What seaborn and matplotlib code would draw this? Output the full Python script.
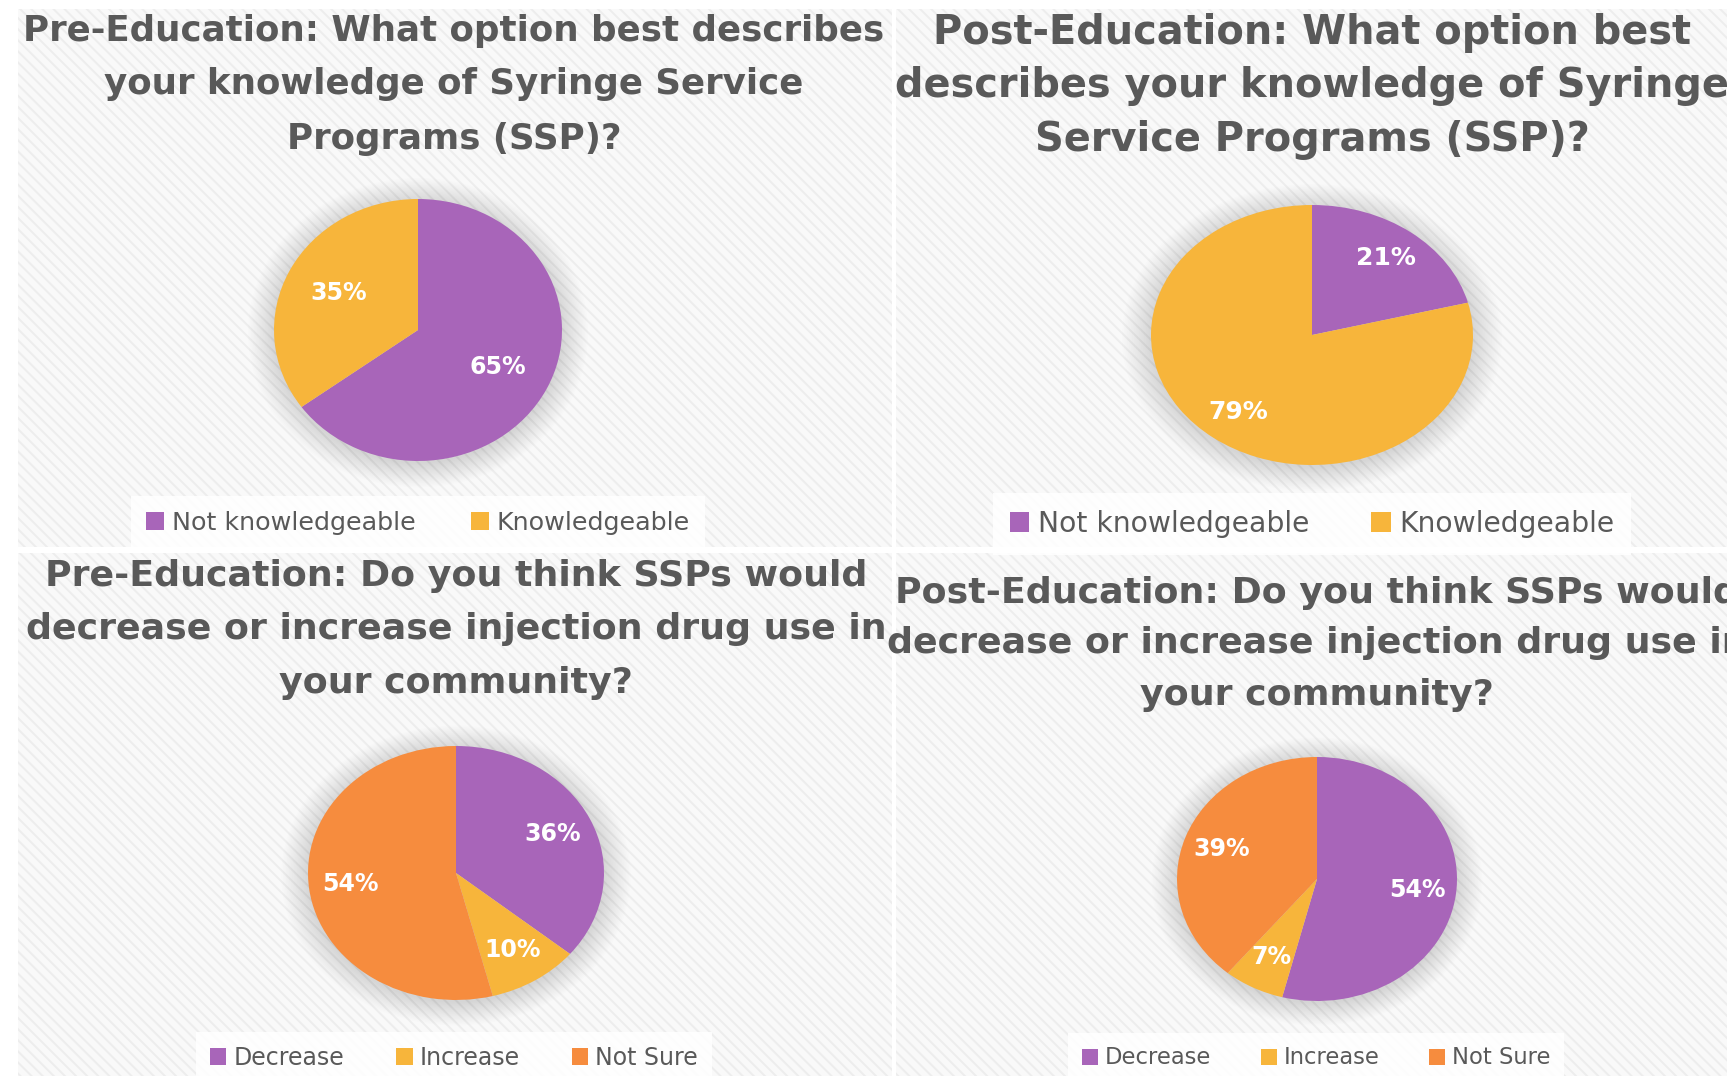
import matplotlib
matplotlib.use("Agg")
import matplotlib.pyplot as plt
import seaborn as sns
from matplotlib.patches import Rectangle, Ellipse
import numpy as np

# ---------------- data ----------------
knowledge_labels = ["Not knowledgeable", "Knowledgeable"]
knowledge_pre = [65, 35]
knowledge_post = [21, 79]

usage_labels = ["Decrease", "Increase", "Not Sure"]
usage_pre = [36, 10, 54]
usage_post = [54, 7, 39]

title_tl = ["Pre-Education: What option best describes",
            "your knowledge of Syringe Service",
            "Programs (SSP)?"]
title_tr = ["Post-Education: What option best",
            "describes your knowledge of Syringe",
            "Service Programs (SSP)?"]
title_bl = ["Pre-Education: Do you think SSPs would",
            "decrease or increase injection drug use in",
            "your community?"]
title_br = ["Post-Education: Do you think SSPs would",
            "decrease or increase injection drug use in",
            "your community?"]

PURPLE, YELLOW, ORANGE = "#A865B9", "#F7B53B", "#F68C3E"
knowledge_colors = [PURPLE, YELLOW]
usage_colors = sns.color_palette([PURPLE, YELLOW, ORANGE])

# ---------------- style ----------------
sns.set_theme(style="white")
plt.rcParams['font.family'] = ['DejaVu Sans']
plt.rcParams['hatch.linewidth'] = 1.4

W, H = 1727, 1076
fig = plt.figure(figsize=(W / 100, H / 100), dpi=100)
fig.patch.set_facecolor('white')
renderer = fig.canvas.get_renderer()


def fx(x):
    return x / W


def fy(y):
    return 1 - y / H


TEXT = "#595959"

# panel backgrounds (hatched)
panels = [(18, 9, 892, 547), (896, 9, 1727, 547),
          (18, 553, 892, 1076), (896, 553, 1727, 1076)]
for (x0, y0, x1, y1) in panels:
    fig.patches.append(Rectangle((fx(x0), fy(y1)), fx(x1) - fx(x0), fy(y0) - fy(y1),
                                 transform=fig.transFigure, facecolor='#f9f9f9',
                                 edgecolor='#ededed', hatch='\\\\\\', linewidth=0,
                                 zorder=-5))


def draw_title(lines, cx, ys, ref_idx, ref_w):
    probe = fig.text(0, 0, lines[ref_idx], fontsize=20, fontweight='bold')
    w = probe.get_window_extent(renderer).width
    probe.remove()
    size = 20 * ref_w / w
    for line, y in zip(lines, ys):
        fig.text(fx(cx), fy(y), line, ha='center', va='center', fontsize=size,
                 fontweight='bold', color=TEXT)


def pie_panel(vals, labels, colors, cx, cy, rx, ry, lx, ly, pctd=0.72,
              leg_size=17, label_size=17):
    k = 1.3
    w, h = 2 * rx * k, 2 * ry * k
    ax = fig.add_axes([fx(cx - w / 2), fy(cy + h / 2), w / W, h / H])
    ax.set_facecolor('none')
    wedges, texts, autotexts = ax.pie(
        vals, colors=colors, startangle=90, counterclock=False,
        autopct=lambda p: f"{p:.0f}%", pctdistance=pctd,
        textprops=dict(color='white', fontsize=label_size, fontweight='bold'),
        wedgeprops=dict(linewidth=0))
    ax.set_aspect('auto')
    ax.set_xlim(-k, k)
    ax.set_ylim(-k, k)
    ax.axis('off')
    # soft glow / shadow around pie
    for r in np.linspace(1.0, 1.18, 18):
        ax.add_patch(Ellipse((0, -0.02), 2 * r, 2 * r, facecolor='#7a7a7a',
                             edgecolor='none', alpha=0.016, zorder=0.5))
    leg = fig.legend(wedges, labels, loc='center', bbox_to_anchor=(fx(lx), fy(ly)),
                     ncol=len(labels), frameon=True, fancybox=False,
                     facecolor='white', framealpha=0.85, edgecolor='none',
                     handlelength=0.7, handleheight=0.7, handletextpad=0.3,
                     columnspacing=2.2, borderpad=0.6,
                     prop=dict(family=['DejaVu Sans'], size=leg_size))
    for t in leg.get_texts():
        t.set_color(TEXT)
    return ax


draw_title(title_tl, 454, [31, 84, 139], 0, 860)
draw_title(title_tr, 1312, [33, 86, 140], 0, 758)
draw_title(title_bl, 456, [576, 629, 683], 1, 863)
draw_title(title_br, 1317, [593, 643, 695], 2, 354)

pie_panel(knowledge_pre, knowledge_labels, knowledge_colors, 418, 330, 144, 131,
          418, 523, pctd=0.62, leg_size=18.3)
pie_panel(knowledge_post, knowledge_labels, knowledge_colors, 1312, 335, 161, 130,
          1312, 524, pctd=0.75, leg_size=20.3, label_size=18)
pie_panel(usage_pre, usage_labels, usage_colors, 456, 873, 148, 127,
          454, 1058, pctd=0.72, leg_size=17)
pie_panel(usage_post, usage_labels, usage_colors, 1317, 879, 140, 122,
          1316, 1058, pctd=0.72, leg_size=16.3)

fig.savefig("out.png", dpi=100, facecolor='white')
